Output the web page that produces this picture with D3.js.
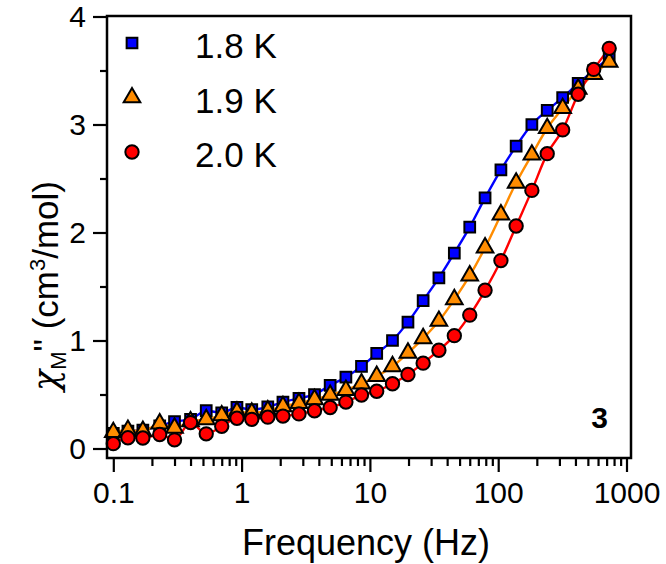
<!DOCTYPE html>
<html>
<head>
<meta charset="utf-8">
<script src="https://cdn.jsdelivr.net/npm/d3@7"></script>
<style>
  body { margin: 0; background: #fff; }
  svg { display: block; font-family: "Liberation Sans", Arial, sans-serif; }
</style>
</head>
<body>
<svg width="666" height="564"></svg>
<script>
// frequencies (Hz)
const freqs = [0.1, 0.13, 0.17, 0.23, 0.3, 0.4, 0.53, 0.7, 0.92, 1.2, 1.6, 2.1, 2.8, 3.7, 4.9, 6.5,
  8.6, 11.3, 15, 19.8, 26, 34.5, 45.5, 60, 79, 105, 138, 183, 241, 318, 420, 555, 733];

// chi'' values (cm3/mol) per temperature
const chi18 = [0.14, 0.16, 0.17, 0.21, 0.25, 0.27, 0.35, 0.33, 0.38, 0.36, 0.385, 0.43, 0.465, 0.50, 0.585, 0.66,
  0.76, 0.88, 1.00, 1.17, 1.37, 1.58, 1.81, 2.05, 2.32, 2.58, 2.80, 3.00, 3.13, 3.25, 3.38, 3.50, 3.62];
const chi19 = [0.15, 0.17, 0.16, 0.23, 0.19, 0.25, 0.27, 0.305, 0.34, 0.33, 0.35, 0.39, 0.42, 0.455, 0.495, 0.54,
  0.60, 0.67, 0.76, 0.885, 1.02, 1.18, 1.38, 1.60, 1.86, 2.165, 2.46, 2.72, 2.965, 3.15, 3.33, 3.465, 3.58];
const chi20 = [0.045, 0.10, 0.097, 0.13, 0.08, 0.24, 0.136, 0.205, 0.28, 0.27, 0.29, 0.30, 0.32, 0.35, 0.38, 0.43,
  0.495, 0.53, 0.60, 0.685, 0.79, 0.91, 1.045, 1.235, 1.465, 1.74, 2.06, 2.39, 2.73, 2.95, 3.28, 3.51, 3.705];

const seriesNames = ['1.8 K', '1.9 K', '2.0 K'];
const xTickLabels = ['0.1', '1', '10', '100', '1000'];
const yTicks = [0, 1, 2, 3, 4];

const svg = d3.select('svg');

// plot frame
const frameL = 107, frameR = 631, frameT = 16, frameB = 458;

const x = d3.scaleLog().domain([0.1, 1000]).range([113.3, 626.5]);
const y = d3.scaleLinear().domain([0, 4]).range([448.5, 16.5]);

const series = [
  { name: seriesNames[0], values: chi18, color: '#0000ff', shape: d3.symbolSquare, size: 115 },
  { name: seriesNames[1], values: chi19, color: '#ff8c00', shape: d3.symbolTriangle, size: 120 },
  { name: seriesNames[2], values: chi20, color: '#ff0000', shape: d3.symbolCircle, size: 140 }
];

// lines
const line = d3.line()
  .x((d, i) => x(freqs[i]))
  .y(d => y(d))
  .curve(d3.curveMonotoneX);

series.forEach(s => {
  svg.append('path')
    .attr('d', line(s.values))
    .attr('fill', 'none')
    .attr('stroke', s.color)
    .attr('stroke-width', 2.4);
});

// markers
series.forEach(s => {
  svg.append('g').selectAll('path')
    .data(s.values)
    .enter()
    .append('path')
    .attr('transform', (d, i) => `translate(${x(freqs[i])},${y(d)})`)
    .attr('d', d3.symbol().type(s.shape).size(s.size))
    .attr('fill', s.color)
    .attr('stroke', '#000')
    .attr('stroke-width', 2);
});

// frame
svg.append('rect')
  .attr('x', frameL).attr('y', frameT)
  .attr('width', frameR - frameL).attr('height', frameB - frameT)
  .attr('fill', 'none')
  .attr('stroke', '#000')
  .attr('stroke-width', 2.5);

// y axis
svg.append('g')
  .attr('transform', `translate(${frameL},0)`)
  .call(d3.axisLeft(y).tickValues(yTicks).tickSize(14).tickPadding(7).tickFormat(d3.format('d')));
svg.append('g')
  .attr('transform', `translate(${frameL},0)`)
  .call(d3.axisLeft(y).tickValues([0.5, 1.5, 2.5, 3.5]).tickSize(7).tickFormat(''));

// x axis
const majors = xTickLabels.map(Number);
const minors = [];
majors.slice(0, 4).forEach(m => { for (let k = 2; k <= 9; k++) minors.push(m * k); });

svg.append('g')
  .attr('transform', `translate(0,${frameB})`)
  .call(d3.axisBottom(x).tickValues(majors).tickSize(14).tickPadding(10)
    .tickFormat((d, i) => xTickLabels[i]));
svg.append('g')
  .attr('transform', `translate(0,${frameB})`)
  .call(d3.axisBottom(x).tickValues(minors).tickSize(8).tickFormat(''));

svg.selectAll('.domain').remove();
svg.selectAll('.tick line').attr('stroke', '#000').attr('stroke-width', 2.2);
svg.selectAll('.tick text')
  .attr('fill', '#000')
  .style('font-size', '30px')
  .style('font-family', '"Liberation Sans", Arial, sans-serif');

// axis titles
svg.append('text')
  .attr('x', 366)
  .attr('y', 555)
  .attr('text-anchor', 'middle')
  .style('font-size', '36px')
  .text('Frequency (Hz)');

const yl = svg.append('text')
  .attr('transform', 'translate(58,286) rotate(-90)')
  .attr('text-anchor', 'middle')
  .style('font-size', '35px');
yl.append('tspan').style('font-family', '"DejaVu Serif", serif').style('font-style', 'italic').text('χ');
yl.append('tspan').attr('dy', 8).style('font-size', '22px').text('M');
yl.append('tspan').attr('dy', -8).text('" (cm');
yl.append('tspan').attr('dy', -13).style('font-size', '22px').text('3');
yl.append('tspan').attr('dy', 13).text('/mol)');

// legend
const legend = svg.append('g');
series.forEach((s, i) => {
  const ly = 43 + i * 54.5;
  legend.append('path')
    .attr('transform', `translate(132,${ly})`)
    .attr('d', d3.symbol().type(s.shape).size(s.size))
    .attr('fill', s.color)
    .attr('stroke', '#000')
    .attr('stroke-width', 2);
  legend.append('text')
    .attr('x', 195)
    .attr('y', ly + 15)
    .style('font-size', '35px')
    .text(s.name);
});

// compound label
svg.append('text')
  .attr('x', 608)
  .attr('y', 428)
  .attr('text-anchor', 'end')
  .style('font-size', '30px')
  .style('font-weight', 'bold')
  .text('3');
</script>
</body>
</html>
